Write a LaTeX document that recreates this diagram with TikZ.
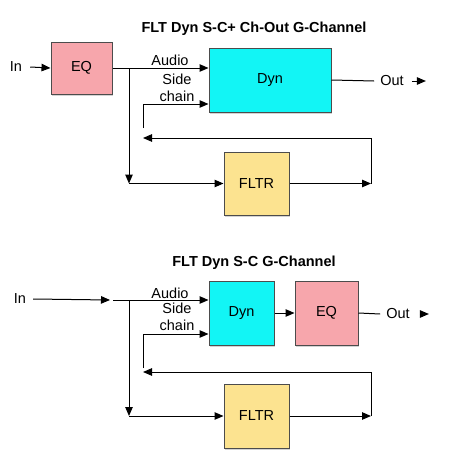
\documentclass[tikz,border=0pt]{standalone}
\usepackage{fontspec}
\setmainfont{Liberation Sans}
\usepackage{tikz}
\usetikzlibrary{arrows.meta}
\usetikzlibrary{shadows}
\definecolor{eqpink}{HTML}{F7A6AC}
\definecolor{dyncyan}{HTML}{12F5F5}
\definecolor{fltryellow}{HTML}{FCE390}
\tikzset{
    blk/.style={draw=black!70, line width=1pt, font=\fontsize{14.5}{16}\selectfont,
        drop shadow={shadow xshift=1.2pt, shadow yshift=-2pt, opacity=0.35}}, % 方框的样式
    lbl/.style={font=\fontsize{14.5}{15}\selectfont, inner sep=2pt}, % 文字标签
    arr/.style={line width=1pt, -{Triangle[length=9pt, width=7.5pt]}}, % 带箭头的连线
    wire/.style={line width=1pt}
}
\begin{document}
\begin{tikzpicture}[x=1pt, y=-1pt]
      \useasboundingbox (0,0) rectangle (459,472);

      % 上图
      \node[lbl, font=\fontsize{14.5}{15}\selectfont\bfseries] (title1) at (254,29) {FLT Dyn S-C+ Ch-Out G-Channel};

      \node[lbl] (in1) at (16,67) {In};
      \node[blk, fill=eqpink, minimum width=61pt, minimum height=52pt] (eq1) at (81.5,68) {EQ};
      \node[blk, fill=dyncyan, minimum width=122pt, minimum height=64pt] (dyn1) at (270,80) {Dyn};
      \node[blk, fill=fltryellow, minimum width=65pt, minimum height=63pt] (fltr1) at (256.5,183.5) {FLTR};
      \node[lbl] (out1) at (392,81) {Out};

      \node[lbl] (audio1) at (170,60) {Audio};
      \node[lbl, align=center, font=\fontsize{14.5}{16.5}\selectfont] (side1) at (177,88) {Side\\chain};

      \coordinate (br1) at (129,68);
      \coordinate (lo1) at (129,183.5);
      \coordinate (fb1) at (371,183.5);
      \coordinate (sc1) at (143,138);
      \coordinate (sb1) at (143,128);

      \draw[arr] ([xshift=6pt]in1.east) -- (eq1.west);
      \draw[arr] (eq1.east) -- (eq1.east -| dyn1.west);
      \draw[arr] (br1) -- (lo1);
      \draw[arr] (lo1) -- (fltr1.west);
      \draw[arr] (fltr1.east) -- (fb1);
      \draw[arr] (fb1) |- (sc1);
      \draw[arr] (sb1) |- ([yshift=-24pt]dyn1.west);
      \draw[wire] (dyn1.east) -- ([xshift=-4pt]out1.west);
      \draw[arr] ([xshift=6pt]out1.east) -- ++(14,0);

      % 下图
      \node[lbl, font=\fontsize{14.5}{15}\selectfont\bfseries] (title2) at (254,263) {FLT Dyn S-C G-Channel};

      \node[lbl] (in2) at (20,299) {In};
      \node[blk, fill=dyncyan, minimum width=65pt, minimum height=64pt] (dyn2) at (241.5,313) {Dyn};
      \node[blk, fill=eqpink, minimum width=63pt, minimum height=64pt] (eq2) at (326.5,313) {EQ};
      \node[blk, fill=fltryellow, minimum width=65pt, minimum height=64pt] (fltr2) at (256.5,416) {FLTR};
      \node[lbl] (out2) at (398,314) {Out};

      \node[lbl] (audio2) at (170,293) {Audio};
      \node[lbl, align=center, font=\fontsize{14.5}{16.5}\selectfont] (side2) at (177,317) {Side\\chain};

      \coordinate (a2) at (110,300);
      \coordinate (a2b) at (113,300);
      \coordinate (br2) at (129,300);
      \coordinate (lo2) at (129,416);
      \coordinate (fb2) at (371,416);
      \coordinate (sc2) at (143,372);
      \coordinate (sb2) at (143,368);

      \draw[arr] ([xshift=5pt]in2.east) -- (a2);
      \draw[arr] (a2b) -- (a2b -| dyn2.west);
      \draw[arr] (br2) -- (lo2);
      \draw[arr] (lo2) -- (fltr2.west);
      \draw[arr] (dyn2.east) -- (eq2.west);
      \draw[arr] (fltr2.east) -- (fb2);
      \draw[arr] (fb2) |- (sc2);
      \draw[arr] (sb2) |- ([yshift=-21pt]dyn2.west);
      \draw[wire] (eq2.east) -- ([xshift=-4pt]out2.west);
      \draw[arr] ([xshift=8pt]out2.east) -- ++(9,0);

\end{tikzpicture}
\end{document}
